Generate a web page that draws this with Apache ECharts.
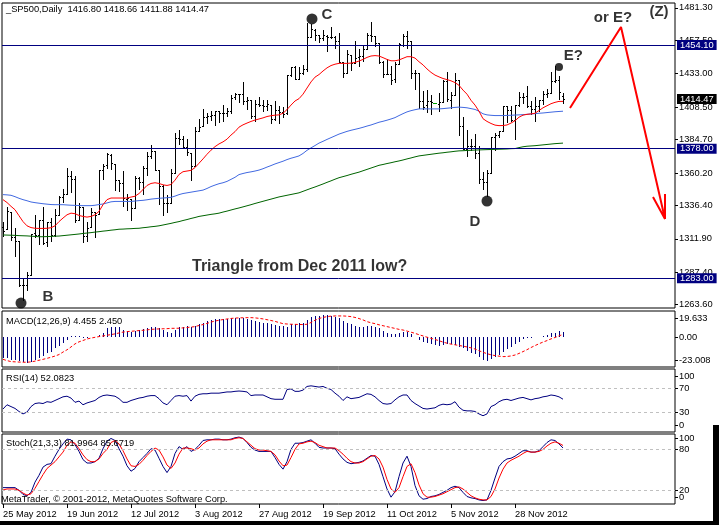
<!DOCTYPE html>
<html><head><meta charset="utf-8">
<script src="https://cdn.jsdelivr.net/npm/echarts@6/dist/echarts.min.js"></script>
<style>html,body{margin:0;padding:0;background:#fff}#c{width:719px;height:525px}</style>
</head><body><div id="c"></div>
<script>
// ---------- DATA ----------
const dateLabels = ['25 May 2012','19 Jun 2012','12 Jul 2012','3 Aug 2012','27 Aug 2012','19 Sep 2012','11 Oct 2012','5 Nov 2012','28 Nov 2012'];
const barsPerLabel = 16;
const totalSlots = 168;

const open = [1320.8,1318.9,1331.3,1313.1,1309.9,1278.3,1277.8,1285.6,1316.2,1315.0,
1325.7,1309.4,1324.0,1314.9,1329.2,1342.4,1344.8,1358.0,1355.4,1325.9,
1334.9,1314.1,1320.7,1331.5,1330.1,1362.3,1365.8,1373.7,1367.1,1354.7,
1353.0,1341.4,1341.3,1334.8,1356.5,1353.7,1363.6,1373.0,1376.5,1362.3,
1350.5,1338.4,1338.2,1360.1,1385.9,1385.3,1379.3,1375.1,1365.5,1391.0,
1394.5,1401.2,1402.3,1402.6,1405.9,1404.4,1403.9,1405.6,1415.8,1417.9,
1418.1,1413.1,1413.5,1402.0,1411.1,1410.4,1409.3,1410.1,1400.1,1406.5,
1404.9,1404.0,1432.1,1437.9,1429.1,1433.6,1436.6,1460.1,1465.4,1461.2,
1459.5,1461.0,1460.3,1459.8,1456.9,1441.6,1433.4,1447.1,1440.9,1445.0,
1446.1,1451.1,1461.4,1460.9,1455.9,1441.5,1432.8,1432.8,1428.8,1440.3,
1454.2,1460.9,1457.3,1433.2,1433.7,1413.2,1409.7,1413.0,1411.5,1411.0,
1412.2,1427.6,1414.0,1417.3,1428.3,1394.5,1377.6,1379.9,1380.0,1374.6,
1355.4,1353.4,1359.9,1386.8,1387.8,1391.0,1409.2,1406.3,1398.8,1410.0,
1416.0,1416.3,1409.5,1407.1,1409.4,1414.0,1418.1,1418.6,1427.8,1428.5,
1416.80];
const high = [1324.1,1334.9,1331.3,1319.7,1309.9,1282.6,1287.6,1315.1,1329.1,1325.8,
1335.5,1324.3,1327.3,1333.7,1343.3,1348.2,1363.5,1361.6,1358.3,1337.8,
1334.9,1324.2,1334.4,1331.5,1362.2,1366.4,1374.8,1373.8,1367.1,1354.9,
1361.5,1345.0,1341.3,1357.7,1357.3,1365.4,1375.3,1380.4,1376.5,1362.3,
1351.5,1344.0,1363.1,1389.2,1391.7,1387.2,1385.0,1375.1,1394.2,1399.6,
1407.1,1404.1,1406.0,1406.0,1405.9,1410.0,1407.7,1417.4,1418.7,1418.1,
1426.7,1416.1,1413.5,1413.5,1416.2,1413.6,1414.0,1410.1,1413.1,1409.3,
1408.8,1432.1,1437.9,1438.7,1437.8,1439.2,1470.0,1469.5,1465.6,1461.5,
1465.2,1461.2,1467.1,1460.7,1463.2,1441.6,1450.2,1447.1,1457.1,1451.5,
1454.3,1463.1,1471.0,1460.9,1455.9,1442.5,1443.9,1438.4,1441.3,1455.5,
1462.2,1464.0,1457.3,1435.5,1433.7,1420.0,1421.1,1417.1,1411.5,1418.8,
1428.4,1434.3,1419.9,1433.4,1428.3,1401.2,1391.4,1384.9,1388.8,1380.1,
1360.6,1362.0,1386.9,1389.8,1391.3,1409.2,1409.2,1409.0,1410.0,1419.7,
1418.9,1423.7,1413.1,1415.6,1414.0,1420.3,1421.6,1434.3,1438.6,1431.4,
1418.66];
const low = [1314.2,1318.9,1310.8,1298.9,1277.3,1266.7,1274.0,1285.6,1313.3,1307.8,
1307.7,1306.6,1310.5,1314.1,1329.2,1338.6,1344.8,1346.5,1324.4,1325.9,
1309.3,1310.3,1320.7,1313.3,1330.1,1355.7,1363.5,1363.0,1348.0,1346.7,
1336.3,1333.2,1325.4,1334.8,1348.5,1345.1,1358.6,1371.2,1362.2,1337.6,
1329.2,1331.5,1338.2,1360.1,1381.4,1379.2,1373.6,1354.7,1365.5,1391.0,
1394.5,1396.6,1398.8,1395.6,1397.3,1398.6,1401.8,1404.2,1414.7,1412.1,
1410.9,1406.8,1400.5,1398.0,1409.1,1405.6,1406.6,1397.0,1399.0,1396.6,
1401.3,1403.2,1431.4,1429.0,1429.1,1433.0,1435.0,1460.1,1457.6,1456.1,
1457.9,1450.0,1459.5,1452.1,1441.6,1430.5,1433.4,1435.6,1440.9,1439.0,
1442.0,1451.1,1456.9,1453.1,1441.2,1430.6,1432.8,1425.5,1427.2,1440.3,
1453.3,1451.6,1429.9,1422.1,1407.6,1407.1,1405.1,1403.3,1411.5,1406.0,
1412.2,1412.9,1408.1,1417.3,1388.1,1377.5,1373.0,1377.2,1370.8,1352.5,
1348.1,1343.4,1359.9,1377.0,1386.4,1391.0,1397.7,1398.0,1385.4,1409.0,
1411.6,1408.5,1403.7,1398.2,1405.9,1410.9,1415.6,1418.6,1426.8,1414.6,
1411.88];
const close = [1317.8,1332.4,1313.3,1310.3,1278.0,1278.2,1285.5,1315.1,1315.0,1325.7,
1308.9,1324.2,1314.9,1329.1,1342.8,1344.8,1358.0,1355.7,1325.5,1335.0,
1313.7,1320.0,1331.9,1329.0,1362.2,1365.5,1374.0,1367.6,1354.7,1352.5,
1341.5,1341.5,1334.8,1356.8,1353.6,1363.7,1372.8,1376.5,1362.7,1350.5,
1338.3,1337.9,1360.0,1386.0,1385.3,1379.3,1375.3,1365.0,1391.0,1394.2,
1401.4,1402.2,1402.8,1405.9,1404.1,1403.9,1405.5,1415.5,1418.2,1418.1,
1413.2,1413.5,1402.1,1411.1,1410.4,1409.3,1410.5,1399.5,1406.6,1404.9,
1403.4,1432.1,1437.9,1429.1,1433.6,1436.6,1460.0,1465.8,1461.2,1459.3,
1461.1,1460.3,1460.2,1456.9,1441.6,1433.3,1447.2,1440.7,1444.5,1445.8,
1451.0,1461.4,1460.9,1455.9,1441.5,1432.6,1432.8,1428.6,1440.1,1454.9,
1460.9,1457.3,1433.2,1433.8,1413.1,1408.8,1413.0,1411.9,1411.5,1412.2,
1427.6,1414.2,1417.3,1428.4,1394.5,1377.5,1379.9,1380.0,1374.5,1355.5,
1353.3,1359.9,1386.9,1387.8,1391.0,1409.2,1406.3,1398.9,1409.9,1416.0,
1416.2,1409.5,1407.1,1409.3,1413.9,1418.1,1418.6,1427.8,1428.5,1419.5,
1414.47];

const maRed = [1340.6,1338.5,1335.7,1333.2,1328.8,1324.5,1321.4,1320.1,1319.6,1319.5,
1319.5,1319.6,1320.0,1321.4,1324.5,1327.1,1329.5,1330.7,1330.3,1329.0,
1328.3,1327.8,1328.3,1329.5,1332.0,1336.9,1340.6,1341.8,1341.8,1341.8,
1341.8,1341.8,1342.5,1343.1,1345.1,1348.0,1351.0,1352.5,1353.0,1352.5,
1351.5,1351.0,1351.7,1354.9,1359.1,1361.1,1361.6,1362.1,1364.1,1367.3,
1370.5,1373.9,1376.9,1379.5,1381.5,1383.0,1385.0,1388.0,1390.5,1393.8,
1395.5,1396.8,1398.0,1399.0,1399.8,1400.6,1401.6,1402.2,1402.6,1402.8,
1404.0,1406.7,1410.0,1413.0,1414.7,1418.0,1422.5,1427.0,1430.5,1432.4,
1435.0,1437.3,1439.0,1440.0,1440.6,1440.6,1440.6,1440.8,1441.3,1442.3,
1443.5,1445.0,1446.0,1446.3,1446.0,1444.8,1443.5,1442.5,1442.5,1443.1,
1444.3,1445.5,1445.5,1444.5,1441.8,1439.5,1436.5,1434.0,1432.0,1430.7,
1429.5,1428.7,1427.8,1426.5,1424.5,1421.0,1418.0,1413.5,1410.0,1405.5,
1400.0,1398.0,1396.5,1395.3,1394.9,1395.0,1395.4,1396.8,1398.5,1401.1,
1402.6,1403.2,1403.5,1404.0,1406.0,1408.0,1409.5,1411.0,1412.0,1412.7,
1412.7];
const maBlue = [1344.3,1344.1,1343.8,1342.8,1341.6,1340.6,1339.8,1338.9,1338.4,1338.0,
1337.6,1337.3,1337.0,1336.9,1336.9,1336.9,1336.7,1336.5,1336.4,1336.3,
1336.2,1336.2,1336.2,1336.5,1337.0,1337.4,1338.2,1339.0,1339.3,1339.3,
1339.3,1339.3,1339.3,1339.6,1339.9,1340.1,1340.5,1341.0,1341.3,1341.6,
1341.8,1342.0,1342.3,1343.2,1344.3,1345.1,1345.6,1346.1,1346.6,1347.1,
1347.6,1348.8,1350.2,1351.3,1352.3,1353.0,1354.0,1355.5,1357.0,1359.0,
1359.8,1360.5,1361.0,1361.6,1362.3,1363.3,1364.5,1365.6,1366.8,1367.8,
1368.8,1370.0,1371.0,1371.8,1372.7,1374.5,1376.8,1378.6,1380.3,1382.1,
1383.4,1384.8,1386.1,1387.4,1388.7,1389.7,1390.7,1391.5,1392.2,1392.9,
1393.7,1394.6,1395.4,1396.4,1397.4,1398.1,1398.9,1399.8,1400.8,1402.3,
1403.7,1405.0,1405.9,1406.6,1407.2,1407.2,1407.2,1407.2,1407.2,1407.2,
1407.4,1407.7,1408.0,1408.3,1408.5,1408.3,1408.0,1407.4,1406.8,1405.5,
1403.6,1402.8,1402.5,1402.3,1402.3,1402.3,1402.4,1402.5,1402.7,1402.8,
1403.0,1403.2,1403.5,1403.7,1404.0,1404.2,1404.5,1404.8,1405.1,1405.3,
1405.5];
const maGreen = [1314.7,1314.6,1314.5,1314.4,1314.2,1314.1,1314.0,1313.8,1313.6,1313.4,
1313.4,1313.5,1313.6,1313.8,1313.9,1314.2,1314.5,1314.8,1315.1,1315.4,
1315.8,1316.1,1316.4,1316.8,1317.1,1317.5,1317.8,1318.2,1318.5,1318.9,
1319.0,1319.2,1319.3,1319.5,1319.6,1320.0,1320.3,1320.7,1321.0,1321.4,
1322.0,1322.6,1323.2,1323.9,1324.5,1325.3,1326.0,1326.8,1327.5,1328.3,
1328.8,1329.3,1329.8,1330.2,1330.7,1331.5,1332.2,1333.0,1333.8,1334.5,
1335.3,1336.1,1336.9,1337.8,1338.6,1339.4,1340.2,1341.0,1341.8,1342.6,
1343.2,1343.8,1344.4,1345.0,1345.6,1346.7,1347.8,1348.9,1349.9,1351.0,
1352.1,1353.3,1354.4,1355.6,1356.7,1357.5,1358.3,1359.2,1360.0,1360.8,
1361.8,1362.8,1363.8,1364.8,1365.8,1366.4,1367.1,1367.7,1368.4,1369.0,
1369.7,1370.5,1371.2,1372.0,1372.7,1373.1,1373.5,1373.9,1374.3,1374.7,
1375.0,1375.4,1375.7,1376.1,1376.4,1376.5,1376.7,1376.8,1377.0,1377.1,
1377.2,1377.3,1377.4,1377.5,1377.6,1377.7,1377.8,1378.0,1378.1,1378.8,
1379.4,1379.8,1380.0,1380.2,1380.5,1380.8,1381.1,1381.4,1381.7,1381.9,
1382.1];

const macdMain = [-18.5,-18.5,-20,-20,-21,-22,-23,-21.4,-20,-18.5,
-16.5,-14.1,-12.6,-9.7,-7.7,-5.3,-2.5,1.0,1.0,1.0,
-0.3,-0.6,0.3,0.5,2.0,4.1,7.9,9.4,9.4,8.8,
6.4,5.8,5.0,5.8,6.4,7.0,7.9,8.8,9.4,7.9,
6.4,4.4,3.5,6.4,8.8,9.4,9.9,9.4,9.9,11.7,
12.9,14.6,15.2,15.8,15.8,16.1,16.4,17.0,17.3,17.0,
16.7,15.8,15.2,14.3,13.5,12.9,12.3,11.7,10.8,10.2,
9.9,9.4,11.7,11.7,12.3,12.3,15.2,18.2,18.8,19.1,
19.6,19.6,19.1,18.2,16.7,14.4,12.9,11.4,10.2,9.4,
9.4,10.2,10.2,9.4,7.9,5.9,3.5,2.6,2.6,3.5,
5.0,5.0,2.9,0.6,-2.3,-3.8,-5.3,-6.2,-6.8,-7.4,
-6.8,-5.9,-5.9,-6.8,-8.2,-9.7,-11.7,-13.5,-14.9,-17.0,
-19.9,-20.5,-19.3,-17.6,-15.6,-12.6,-10.6,-8.2,-6.2,-3.8,
-1.8,-0.6,-0.3,0.0,0.6,1.2,2.0,3.5,4.1,5.6,
4.455];
const macdSignal = [-19.4,-20.5,-21.4,-21.6,-21.8,-21.9,-22.0,-21.6,-21.0,-20.2,
-19.4,-18.5,-17.6,-16.5,-15.2,-13.0,-11.0,-8.5,-5.8,-4.0,
-2.8,-1.5,-0.7,0.0,0.6,1.2,1.8,2.4,3.0,3.8,
4.6,5.0,5.3,5.6,5.9,6.2,6.5,7.0,7.2,7.4,
7.5,7.6,7.9,7.9,8.0,8.3,8.6,9.0,9.4,10.4,
11.2,12.2,13.4,14.3,15.0,15.6,16.1,16.6,16.9,17.1,
17.2,17.3,17.3,17.1,16.7,16.2,15.5,14.8,14.0,13.0,
12.0,11.7,11.5,11.4,11.3,11.2,11.5,13.0,15.0,16.5,
17.5,18.2,18.6,18.8,18.8,18.8,18.6,18.2,17.5,16.5,
15.3,13.8,12.8,12.0,11.0,10.2,9.4,8.6,7.8,7.0,
6.4,5.5,4.5,3.5,2.3,1.2,0.1,-0.9,-1.9,-3.0,
-4.2,-5.2,-6.0,-6.6,-7.2,-7.8,-8.5,-9.3,-10.3,-11.8,
-13.2,-14.4,-15.4,-16.1,-16.6,-17.0,-16.9,-16.4,-15.6,-14.2,
-12.6,-10.9,-9.0,-7.3,-5.7,-4.2,-2.9,-1.4,-0.2,1.3,
2.45];
const rsi = [36,43,40,37,32,28,31,40,45,46,
45,48,47,50,53,56,57,54,47,49,
43,46,48,50,55,58,59,58,57,53,
47,47,50,52,54,55,57,58,58,53,
46,43,50,57,58,57,58,49,57,60,
61,61,62,62,62,63,64,64,65,65.5,
65,64,58,59,59,59,56,53,52,52,
52,68,69,65,65,67,73,74,73,72,
73,70,68,62,57,50,56,53,54,55,
58,61,60,56,50,45,44,45,51,56,
59,59,50,45,41,37,36,37,38,42,
44,43,44,48,39,34,33,33,32,28,
25,28,40,43,48,51,52,50,52,54,
55,53,51,53,54,56,57,59,58,56,
52.0823];
const stochK = [24,24,24,24,20,14,12,17,32,42,
54,58,59,70,80,88,95,94,87,77,
65,60,60,62,67,81,92,96,93,81,
70,56,48,52,62,68,74,81,79,67,
55,46,55,74,84,80,84,77,80,86,
93,94,94,95,95,94,94,95,97,98,
96,90,83,79,77,77,77,77,68,58,
51,62,80,89,89,90,92,94,89,83,
82,82,82,81,73,66,61,59,60,61,
63,67,71,70,58,40,22,10,18,40,
60,70,55,27,12,7,8,11,12,14,
17,20,24,26,24,17,11,9,8,6,
5,6,20,38,55,62,66,67,70,74,
78,78,76,76,78,84,90,94,93,88,
81.9964];
const stochD = [20.5,22,22,22,20,16,13,15,23,33,
43,52,57,62,69,76,86,91,89,81,
72,65,62,62,66,74,80,90,93,88,
78,66,56,55,58,64,71,77,82,79,
69,57,52,60,73,82,82,81,79,82,
88,92,94,94,94,94,94,94,96,97,
96,91,86,81,79,79,78,77,72,63,
56,57,68,80,88,89,91,92,90,86,
84,82,82,82,78,73,67,62,60,60,
62,66,70,71,66,54,36,22,17,24,
40,55,59,46,28,15,10,10,11,13,
15,18,21,24,25,22,17,12,9,7,
6,6,11,22,38,51,60,64,67,70,
74,77,76,76,77,80,85,89,91,89,
85.6719];

const priceTicks = [1481.30,1457.50,1433.00,1408.50,1384.70,1360.20,1336.40,1311.90,1287.40,1263.60];
const levelLines = [1454.10,1378.00,1283.00];
const macdScaleText = ['19.633','0.00','-23.008'];
const rsiScaleText = ['100','70','30','0'];
const stochScaleText = ['100','80','20'];
const stochZeroText = ['0'];
const rsiLevels = [70,30];
const stochLevels = [80,20];

// annotations (bar index, price)
const zigzag = [[141.75,1407.9],[154.5,1467.3],[165.5,1326.4],[162.5,1342.5]];
const arrowBarb = [[165.5,1326.4],[165.5,1344.7]];
const pivotDots = [[4.5,1264.7],[77.25,1473.2],[121,1339.6]];
const pivotE = [[139,1437.9]];
const noteText = ['C','E?','or E?','(Z)','D','B'];
const noteX = [81, 142.6, 152.5, 164, 118, 11.25];
const noteY = [1476.3, 1446.0, 1473.7, 1478.3, 1324.2, 1269.4];
const headline = ['Triangle from Dec 2011 low?'];
const headlineX = [47.25];
const headlineY = [1291.3];

// ---------- CHART ----------
const F = "'Liberation Sans', Arial, sans-serif";
const FS = 9.3;
const last = close.length - 1;
const idx = close.map((_, i) => i);
const pairs = arr => arr.map((v, i) => [i, v]);
const xVal = gi => ({type:'value', gridIndex:gi, min:-0.25, max:totalSlots, show:false,
  axisLine:{show:false, onZero:false}});
const grids = [
  {left:2, top:3, width:673, height:305},
  {left:2, top:311, width:673, height:56},
  {left:2, top:369, width:673, height:63},
  {left:2, top:434, width:673, height:70}
].map(g => Object.assign(g, {show:true, borderColor:'#000', borderWidth:1, backgroundColor:'#fff'}));

function scaleAxis(gi, min, max, vals, texts){
  return {type:'value', gridIndex:gi, position:'right', min:min, max:max,
    splitLine:{show:false}, axisLine:{show:false, onZero:false},
    axisTick:{show:true, customValues:vals, length:3, inside:false, lineStyle:{color:'#000'}},
    axisLabel:{customValues:vals, margin:4, fontSize:FS, color:'#000', fontFamily:F,
      hideOverlap:false, showMinLabel:true, showMaxLabel:true,
      formatter: v => { const k = vals.findIndex(x => Math.abs(x - v) < 1e-6); return k >= 0 ? texts[k] : ''; }}};
}

const tickIdx = dateLabels.map((_, k) => k * barsPerLabel);
const stochX = {type:'value', gridIndex:3, min:-0.25, max:totalSlots, show:true,
  splitLine:{show:false}, axisLine:{show:false, onZero:false},
  axisTick:{show:true, customValues:tickIdx, length:4, lineStyle:{color:'#000'}},
  axisLabel:{customValues:tickIdx, align:'left', margin:6, fontSize:FS, color:'#000', fontFamily:F,
    hideOverlap:false, showMinLabel:true, showMaxLabel:true,
    formatter: v => dateLabels[Math.round(v / barsPerLabel)] || ''}};

function renderBar(params, api){
  const i = api.value(0), o = api.value(1), h = api.value(2), l = api.value(3), c = api.value(4);
  const pH = api.coord([i, h]), pL = api.coord([i, l]), pO = api.coord([i, o]), pC = api.coord([i, c]);
  const xi = Math.round(pH[0]);
  const x = xi + 0.5;
  if (h === l) {
    const y = Math.round(pO[1]) + 0.5;
    return {type:'line', shape:{x1:xi-2, y1:y, x2:xi+2, y2:y}, style:{stroke:'#00a000', lineWidth:1}};
  }
  const st = {stroke:'#000', lineWidth:1};
  const yo = Math.round(pO[1]) + 0.5, yc = Math.round(pC[1]) + 0.5;
  return {type:'group', children:[
    {type:'line', shape:{x1:x, y1:Math.round(pH[1]), x2:x, y2:Math.round(pL[1]) + 1}, style:st},
    {type:'line', shape:{x1:xi-1, y1:yo, x2:xi, y2:yo}, style:st},
    {type:'line', shape:{x1:xi+1, y1:yc, x2:xi+2, y2:yc}, style:st}
  ]};
}
function renderHist(params, api){
  const i = api.value(0), v = api.value(1);
  const p0 = api.coord([i, 0]), p1 = api.coord([i, v]);
  const x = Math.round(p0[0]) + 0.5;
  return {type:'line', shape:{x1:x, y1:Math.round(p0[1]), x2:x, y2:Math.round(p1[1])},
    style:{stroke:'#000080', lineWidth:1}};
}

const boxLabel = (v, bg) => ({formatter: v.toFixed(2), position:'end', distance:2, color:'#fff',
  backgroundColor:bg, padding:[1,3,0,3], fontSize:FS, fontFamily:F});
const lineBase = {type:'line', symbol:'none', silent:true, smooth:false};
const titleStyle = {fontSize:FS, fontWeight:'normal', color:'#000', fontFamily:F};

const option = {
  animation:false,
  backgroundColor:'#fff',
  textStyle:{fontFamily:F},
  title:[
    {text:'_SP500,Daily  ' + [open[last], high[last], low[last], close[last]].map(v => v.toFixed(2)).join(' '), left:6, top:5, padding:0, textStyle:titleStyle},
    {text:'MACD(12,26,9) ' + macdMain[last].toFixed(3) + ' ' + macdSignal[last].toFixed(3), left:6, top:317, padding:0, textStyle:titleStyle},
    {text:'RSI(14) ' + rsi[last].toFixed(4), left:6, top:374, padding:0, textStyle:titleStyle},
    {text:'Stoch(21,3,3) ' + stochK[last].toFixed(4) + ' ' + stochD[last].toFixed(4), left:6, top:439, padding:0, textStyle:titleStyle},
    {text:'MetaTrader, \u00a9 2001-2012, MetaQuotes Software Corp.', left:1, top:495, padding:0, textStyle:titleStyle}
  ],
  grid:grids,
  xAxis:[xVal(0), xVal(1), xVal(2), stochX],
  yAxis:[
    scaleAxis(0, 1261.1, 1484.9, priceTicks, priceTicks.map(v => v.toFixed(2))),
    scaleAxis(1, -26.14, 23.15, [17.0, 0, -20.0], macdScaleText),
    scaleAxis(2, -1.64, 101.6, [90.2, 70, 30, 9.8], rsiScaleText),
    scaleAxis(3, 0, 102.5, [96.6, 80, 20], stochScaleText),
    scaleAxis(3, 0, 102.5, [9.2], stochZeroText)
  ],
  series:[
    {type:'custom', xAxisIndex:0, yAxisIndex:0, renderItem:renderBar, silent:true, clip:true,
      encode:{x:0, y:[1,2,3,4]}, data: idx.map(i => [i, open[i], high[i], low[i], close[i]]), z:2},
    Object.assign({}, lineBase, {xAxisIndex:0, yAxisIndex:0, data:pairs(maGreen), lineStyle:{color:'#006400', width:1}, z:3}),
    Object.assign({}, lineBase, {xAxisIndex:0, yAxisIndex:0, data:pairs(maBlue), lineStyle:{color:'#4169e1', width:1}, z:3}),
    Object.assign({}, lineBase, {xAxisIndex:0, yAxisIndex:0, data:pairs(maRed), lineStyle:{color:'#ff0000', width:1}, z:4,
      markLine:{silent:true, symbol:'none', animation:false,
        data: levelLines.map(v => ({yAxis:v, lineStyle:{color:'#000080', width:1, type:'solid'}, label:boxLabel(v, '#000080')}))
          .concat([{yAxis:close[last], lineStyle:{color:'rgba(0,0,0,0)', width:0}, label:boxLabel(close[last], '#000')}])}}),
    Object.assign({}, lineBase, {xAxisIndex:0, yAxisIndex:0, data:zigzag, lineStyle:{color:'#ff0000', width:2}, z:5}),
    Object.assign({}, lineBase, {xAxisIndex:0, yAxisIndex:0, data:arrowBarb, lineStyle:{color:'#ff0000', width:2}, z:5}),
    {type:'scatter', xAxisIndex:0, yAxisIndex:0, silent:true, data:pivotDots, symbolSize:11, itemStyle:{color:'#000'}, z:6},
    {type:'scatter', xAxisIndex:0, yAxisIndex:0, silent:true, data:pivotE, symbolSize:8, itemStyle:{color:'#000'}, z:6},
    {type:'scatter', xAxisIndex:0, yAxisIndex:0, silent:true, symbolSize:0, z:7,
      data: noteText.map((t, k) => ({value:[noteX[k], noteY[k]], label:{formatter:t}})),
      label:{show:true, position:[0,0], align:'center', verticalAlign:'middle', fontSize:15, fontWeight:'bold', color:'#000', fontFamily:F}},
    {type:'scatter', xAxisIndex:0, yAxisIndex:0, silent:true, symbolSize:0, z:7,
      data: headline.map((t, k) => ({value:[headlineX[k], headlineY[k]], label:{formatter:t}})),
      label:{show:true, position:[0,0], align:'left', verticalAlign:'middle', fontSize:16, fontWeight:'bold', color:'#000', fontFamily:F}},
    // MACD
    {type:'custom', xAxisIndex:1, yAxisIndex:1, renderItem:renderHist, silent:true, clip:true,
      encode:{x:0, y:1}, data:pairs(macdMain), z:2},
    Object.assign({}, lineBase, {xAxisIndex:1, yAxisIndex:1, data:pairs(macdSignal), lineStyle:{color:'#ff0000', width:1, type:[3,2]}, z:3}),
    // RSI
    Object.assign({}, lineBase, {xAxisIndex:2, yAxisIndex:2, data:pairs(rsi), lineStyle:{color:'#000080', width:1}, z:3,
      markLine:{silent:true, symbol:'none', animation:false, label:{show:false},
        data: rsiLevels.map(v => ({yAxis:v})), lineStyle:{color:'#c0c0c0', width:1, type:[3,3]}}}),
    // Stoch
    Object.assign({}, lineBase, {xAxisIndex:3, yAxisIndex:3, data:pairs(stochK), lineStyle:{color:'#000080', width:1}, z:3,
      markLine:{silent:true, symbol:'none', animation:false, label:{show:false},
        data: stochLevels.map(v => ({yAxis:v})), lineStyle:{color:'#c0c0c0', width:1, type:[3,3]}}}),
    Object.assign({}, lineBase, {xAxisIndex:3, yAxisIndex:3, data:pairs(stochD), lineStyle:{color:'#ff0000', width:1}, z:4})
  ],
  graphic:[
    {type:'rect', shape:{x:0, y:521, width:719, height:4}, style:{fill:'#000'}, silent:true},
    {type:'rect', shape:{x:713, y:425, width:6, height:100}, style:{fill:'#000'}, silent:true}
  ]
};
const chart = echarts.init(document.getElementById('c'), null, {renderer:'canvas'});
chart.setOption(option);
</script>
</body></html>
